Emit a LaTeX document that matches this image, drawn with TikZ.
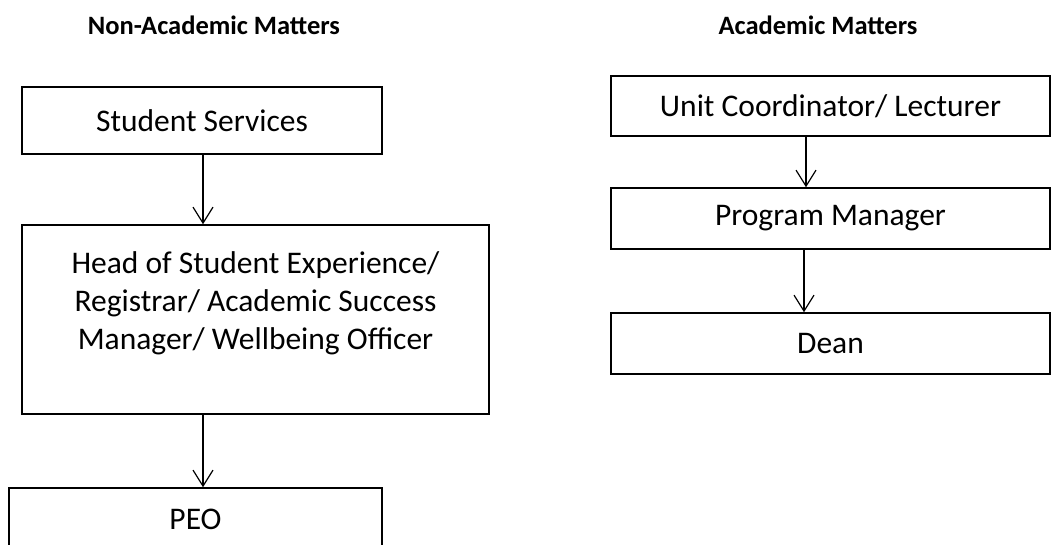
\documentclass[tikz,border=0pt]{standalone}
\usepackage{fontspec}
\setmainfont{Carlito}
\usetikzlibrary{arrows.meta}

\begin{document}
\begin{tikzpicture}[x=1pt, y=-1pt,
    box/.style={rectangle, draw, line width=1.5pt, inner sep=0pt, align=center,
      font=\fontsize{31.5}{38}\selectfont},
    head/.style={font=\bfseries\fontsize{26.5}{30}\selectfont, anchor=base},
    arr/.style={line width=1.2pt, -{Straight Barb[length=16pt, width=20pt, line width=1.2pt]}}]
      \clip (0,0) rectangle (1054,545);
      \fill[white] (0,0) rectangle (1054,545);

      \node[head] at (214, 35)  (nonacad)  {Non-Academic Matters};
      \node[head] at (818, 35)  (acad)     {Academic Matters};

      \node[box, minimum width=360, minimum height=67]  at (202, 120.5)   (ss)    {Student Services};
      \node[box, minimum width=467, minimum height=189] at (255.5, 319.5) (hse)
        {Head of Student Experience/\\ Registrar/ Academic Success\\ Manager/ Wellbeing Officer\\ \mbox{}};
      \node[box, minimum width=373, minimum height=62]  at (195.5, 519)   (peo)   {PEO};

      \node[box, minimum width=439, minimum height=60]  at (830.5, 106)   (uc)    {Unit Coordinator/ Lecturer};
      \node[box, minimum width=439, minimum height=61]  at (830.5, 218.5) (pm)    {Program Manager};
      \node[box, minimum width=439, minimum height=61]  at (830.5, 343.5) (dean)  {Dean};

      \draw[arr]  ([xshift=1]ss.south) -- ([xshift=1]ss.south |- hse.north);
      \draw[arr]  ([xshift=1]ss.south |- hse.south) -- ([xshift=1]ss.south |- peo.north);
      \draw[arr]  ([xshift=-24.5]uc.south) -- ([xshift=-24.5]uc.south |- pm.north);
      \draw[arr]  ([xshift=-26.5]pm.south) -- ([xshift=-26.5]pm.south |- dean.north);
\end{tikzpicture}
\end{document}
